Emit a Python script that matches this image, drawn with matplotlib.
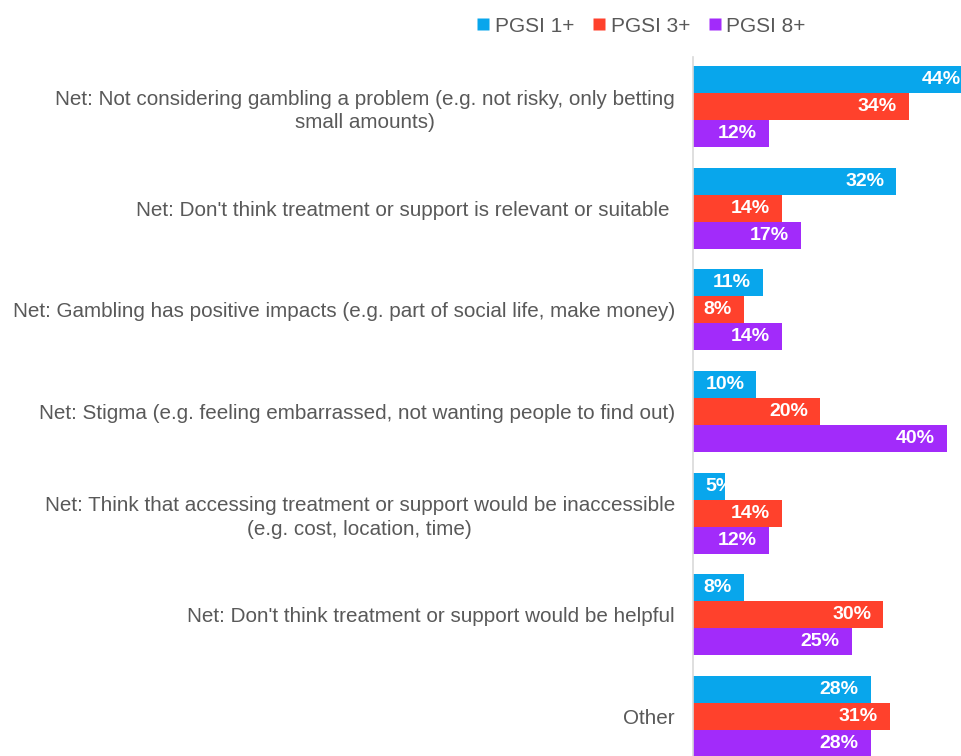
import matplotlib
matplotlib.use("Agg")
import matplotlib.pyplot as plt
from matplotlib.lines import Line2D
import numpy as np

plt.rcParams['font.family'] = ['Liberation Sans', 'DejaVu Sans']

categories = [
    "Net: Not considering gambling a problem (e.g. not risky, only betting\nsmall amounts)",
    "Net: Don't think treatment or support is relevant or suitable ",
    "Net: Gambling has positive impacts (e.g. part of social life, make money)",
    "Net: Stigma (e.g. feeling embarrassed, not wanting people to find out)",
    "Net: Think that accessing treatment or support would be inaccessible\n(e.g. cost, location, time)",
    "Net: Don't think treatment or support would be helpful",
    "Other",
]
series_names = ["PGSI 1+", "PGSI 3+", "PGSI 8+"]
pgsi1 = [44, 32, 11, 10, 5, 8, 28]
pgsi3 = [34, 14, 8, 20, 14, 30, 31]
pgsi8 = [12, 17, 14, 40, 12, 25, 28]
colors = ["#08A6EC", "#FF412C", "#A22BFA"]

W, H = 962, 756
fig = plt.figure(figsize=(W/100, H/100), dpi=100)
ax_left = 693 / W
ax_top = 57 / H
ax = fig.add_axes([ax_left, 0.0, 1 - ax_left, 1 - ax_top])

n = len(categories)
y = np.arange(n)
bh = 0.2656
series = [pgsi1, pgsi3, pgsi8]
for k, (vals, col) in enumerate(zip(series, colors)):
    pos = y + (k - 1) * bh
    ax.barh(pos, vals, height=bh, color=col, edgecolor='none', label=series_names[k])
    for p, v in zip(pos, vals):
        if v < 6:
            ax.annotate(f"{v}%", (0, p), xytext=(12, 0), textcoords='offset pixels',
                        ha='left', va='center', color='white', fontsize=14,
                        fontweight='bold', annotation_clip=False)
        else:
            ax.annotate(f"{v}%", (v, p), xytext=(-12, 0), textcoords='offset pixels',
                        ha='right', va='center', color='white', fontsize=14,
                        fontweight='bold', annotation_clip=False)

ax.set_xlim(0, 269 / 6.35)
ax.set_ylim(n - 1 + 0.389, -0.487)
ax.set_yticks(y)
ax.set_yticklabels(categories, fontsize=14.9, color='#595959', multialignment='center',
                   linespacing=1.3)
ax.tick_params(axis='y', length=0, pad=13)
ax.set_xticks([])
for s in ['top', 'right', 'bottom']:
    ax.spines[s].set_visible(False)
ax.spines['left'].set_color('#D9D9D9')
ax.spines['left'].set_linewidth(1.2)

handles = [Line2D([0], [0], marker='s', linestyle='none', markersize=8,
                  markerfacecolor=c, markeredgecolor='none') for c in colors]
fig.legend(handles, series_names, loc='center', bbox_to_anchor=(642 / W, 1 - 26 / H),
           ncol=3, frameon=False, fontsize=15, labelcolor='#595959',
           handlelength=0.5, handletextpad=0.3, columnspacing=0.95)

fig.savefig("out.png", dpi=100)
